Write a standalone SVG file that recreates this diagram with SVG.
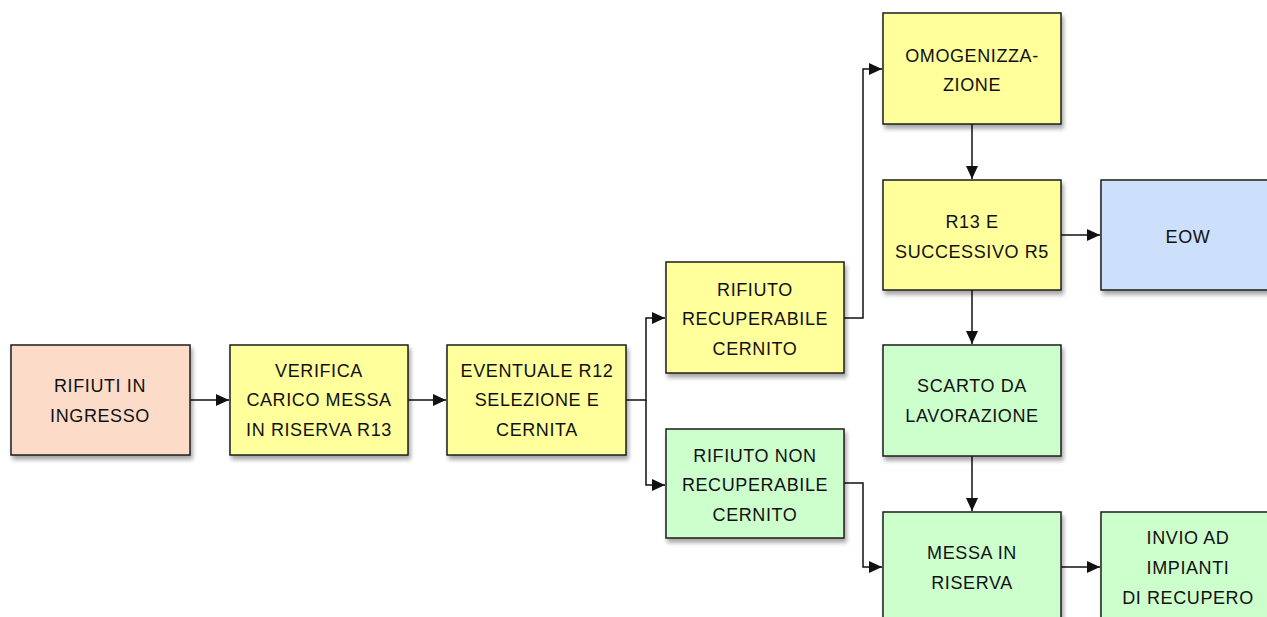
<svg xmlns="http://www.w3.org/2000/svg" width="1267" height="617" viewBox="0 0 1267 617">
<style>
.box{stroke:#1e1e1e;stroke-width:1.5;filter:url(#sh)}
.peach{fill:#fcdcc8}
.yel{fill:#ffff9c}
.grn{fill:#ccffcc}
.blu{fill:#cce0fc}
text{font-family:"Liberation Sans",Arial,sans-serif;font-size:18px;fill:#111;text-anchor:middle;letter-spacing:0.6px}
.c{fill:none;stroke:#111;stroke-width:1.5;marker-end:url(#ah)}
</style>
<defs>
<filter id="sh" x="-10%" y="-10%" width="130%" height="130%">
<feDropShadow dx="2" dy="4" stdDeviation="2" flood-color="#000" flood-opacity="0.35"/>
</filter>
<marker id="ah" markerWidth="13" markerHeight="12" refX="13" refY="6" orient="auto" markerUnits="userSpaceOnUse">
<path d="M0,0 L13,6 L0,12 Z" fill="#111"/>
</marker>
</defs>
<rect width="1267" height="617" fill="#fff"/>
<g id="connectors">
<line class="c" x1="190" y1="400" x2="229" y2="400"/>
<line class="c" x1="408" y1="400" x2="446" y2="400"/>
<polyline class="c" points="626,400 646,400 646,318 665,318"/>
<polyline class="c" points="646,400 646,485 665,485"/>
<polyline class="c" points="844,318 863,318 863,69 882,69"/>
<polyline class="c" points="844,483 863,483 863,567 882,567"/>
<line class="c" x1="972" y1="124" x2="972" y2="179"/>
<line class="c" x1="1061" y1="235" x2="1100" y2="235"/>
<line class="c" x1="972" y1="290" x2="972" y2="344"/>
<line class="c" x1="972" y1="456" x2="972" y2="511"/>
<line class="c" x1="1061" y1="567" x2="1100" y2="567"/>
</g>
<g id="n1"><rect class="box peach" x="11" y="345" width="179" height="110"/>
<text x="100" y="392">RIFIUTI IN</text><text x="100" y="422">INGRESSO</text></g>
<g id="n2"><rect class="box yel" x="230" y="345" width="178" height="110"/>
<text x="319" y="377">VERIFICA</text><text x="319" y="406">CARICO MESSA</text><text x="319" y="436">IN RISERVA R13</text></g>
<g id="n3"><rect class="box yel" x="447" y="345" width="179" height="110"/>
<text x="537" y="377">EVENTUALE R12</text><text x="537" y="406">SELEZIONE E</text><text x="537" y="436">CERNITA</text></g>
<g id="n4"><rect class="box yel" x="666" y="262" width="178" height="111"/>
<text x="755" y="296">RIFIUTO</text><text x="755" y="325">RECUPERABILE</text><text x="755" y="355">CERNITO</text></g>
<g id="n5"><rect class="box grn" x="666" y="429" width="178" height="109"/>
<text x="755" y="462">RIFIUTO NON</text><text x="755" y="491">RECUPERABILE</text><text x="755" y="521">CERNITO</text></g>
<g id="n6"><rect class="box yel" x="883" y="13" width="178" height="111"/>
<text x="972" y="62">OMOGENIZZA-</text><text x="972" y="91">ZIONE</text></g>
<g id="n7"><rect class="box yel" x="883" y="180" width="178" height="110"/>
<text x="972" y="228">R13 E</text><text x="972" y="258">SUCCESSIVO R5</text></g>
<g id="n8"><rect class="box blu" x="1101" y="180" width="175" height="110"/>
<text x="1188" y="243">EOW</text></g>
<g id="n9"><rect class="box grn" x="883" y="345" width="178" height="111"/>
<text x="972" y="392">SCARTO DA</text><text x="972" y="422">LAVORAZIONE</text></g>
<g id="n10"><rect class="box grn" x="883" y="512" width="178" height="120"/>
<text x="972" y="559">MESSA IN</text><text x="972" y="589">RISERVA</text></g>
<g id="n11"><rect class="box grn" x="1101" y="512" width="175" height="120"/>
<text x="1188" y="544">INVIO AD</text><text x="1188" y="574">IMPIANTI</text><text x="1188" y="604">DI RECUPERO</text></g>
</svg>
